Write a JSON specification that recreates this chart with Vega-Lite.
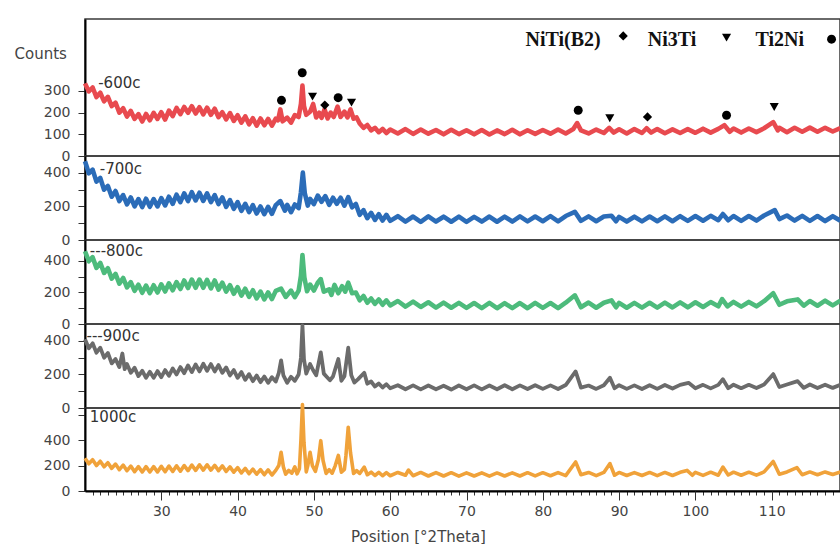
{
"$schema": "https://vega.github.io/schema/vega-lite/v6.json",
"padding": {"left": 13, "top": 18, "right": 0, "bottom": 0},
"background": "white",
"spacing": 0,
"bounds": "flush",
"config": {
 "view": {"stroke": "#3a3a3a", "strokeWidth": 1.5},
 "axis": {"labelFont": "DejaVu Sans", "labelFontSize": 14, "labelColor": "#444", "tickColor": "#333", "domainColor": "#000", "domainWidth": 2, "grid": false, "titleFont": "DejaVu Sans", "titleFontSize": 15, "titleColor": "#444", "titleFontWeight": "normal", "labelPadding": 8, "tickSize": 7, "labelOverlap": false},
 "text": {"font": "DejaVu Sans", "fontSize": 15, "color": "#333", "align": "left", "baseline": "middle"},
 "line": {"strokeWidth": 4.6, "strokeJoin": "round", "clip": true}
},
"datasets": {
"d600": [{"x":20,"y":335},{"x":20.5,"y":298},{"x":21,"y":316},{"x":21.5,"y":272},{"x":22,"y":292},{"x":22.5,"y":252},{"x":23,"y":273},{"x":23.5,"y":230},{"x":24,"y":246},{"x":24.5,"y":200},{"x":25,"y":220},{"x":25.5,"y":182},{"x":26,"y":208},{"x":26.5,"y":171},{"x":27,"y":193},{"x":27.5,"y":159},{"x":28,"y":194},{"x":28.5,"y":165},{"x":29,"y":199},{"x":29.5,"y":171},{"x":30,"y":202},{"x":30.5,"y":168},{"x":31,"y":209},{"x":31.5,"y":184},{"x":32,"y":222},{"x":32.5,"y":193},{"x":33,"y":226},{"x":33.5,"y":199},{"x":34,"y":230},{"x":34.5,"y":196},{"x":35,"y":225},{"x":35.5,"y":192},{"x":36,"y":223},{"x":36.5,"y":190},{"x":37,"y":218},{"x":37.5,"y":179},{"x":38,"y":202},{"x":38.5,"y":169},{"x":39,"y":198},{"x":39.5,"y":162},{"x":40,"y":188},{"x":40.5,"y":154},{"x":41,"y":183},{"x":41.5,"y":146},{"x":42,"y":174},{"x":42.5,"y":140},{"x":43,"y":173},{"x":43.5,"y":142},{"x":44,"y":171},{"x":44.5,"y":140},{"x":45,"y":172},{"x":45.3,"y":165},{"x":45.6,"y":215},{"x":45.9,"y":160},{"x":46.5,"y":177},{"x":47,"y":154},{"x":47.5,"y":189},{"x":48,"y":180},{"x":48.3,"y":240},{"x":48.5,"y":325},{"x":48.7,"y":230},{"x":49,"y":190},{"x":49.5,"y":204},{"x":49.9,"y":240},{"x":50.3,"y":178},{"x":50.7,"y":200},{"x":51,"y":176},{"x":51.4,"y":215},{"x":51.8,"y":173},{"x":52.2,"y":200},{"x":52.6,"y":180},{"x":53.1,"y":228},{"x":53.5,"y":180},{"x":54,"y":205},{"x":54.4,"y":178},{"x":54.8,"y":215},{"x":55.2,"y":172},{"x":55.6,"y":178},{"x":56,"y":150},{"x":56.5,"y":130},{"x":57,"y":143},{"x":57.5,"y":118},{"x":58,"y":130},{"x":58.5,"y":110},{"x":59,"y":125},{"x":59.5,"y":106},{"x":60,"y":122},{"x":61,"y":104},{"x":62,"y":124},{"x":63,"y":102},{"x":64,"y":122},{"x":65,"y":103},{"x":66,"y":120},{"x":67,"y":100},{"x":68,"y":121},{"x":69,"y":101},{"x":70,"y":119},{"x":71,"y":100},{"x":72,"y":120},{"x":73,"y":99},{"x":74,"y":118},{"x":75,"y":101},{"x":76,"y":121},{"x":77,"y":100},{"x":78,"y":119},{"x":79,"y":102},{"x":80,"y":120},{"x":81,"y":103},{"x":82,"y":122},{"x":83,"y":104},{"x":84,"y":125},{"x":84.5,"y":152},{"x":85,"y":118},{"x":86,"y":104},{"x":87,"y":122},{"x":88,"y":106},{"x":88.7,"y":130},{"x":89.3,"y":108},{"x":90,"y":123},{"x":91,"y":104},{"x":92,"y":124},{"x":93,"y":106},{"x":93.6,"y":128},{"x":94.2,"y":108},{"x":95,"y":124},{"x":96,"y":105},{"x":97,"y":123},{"x":98,"y":106},{"x":99,"y":124},{"x":100,"y":107},{"x":101,"y":126},{"x":102,"y":108},{"x":103,"y":125},{"x":103.8,"y":142},{"x":104.5,"y":112},{"x":105,"y":127},{"x":106,"y":108},{"x":107,"y":127},{"x":108,"y":110},{"x":109,"y":128},{"x":110.2,"y":156},{"x":110.8,"y":118},{"x":111,"y":130},{"x":112,"y":110},{"x":113,"y":130},{"x":114,"y":112},{"x":115,"y":131},{"x":116,"y":112},{"x":117,"y":130},{"x":118,"y":113},{"x":119,"y":129}],
"d700": [{"x":20,"y":470},{"x":20.5,"y":398},{"x":21,"y":420},{"x":21.5,"y":348},{"x":22,"y":370},{"x":22.5,"y":300},{"x":23,"y":322},{"x":23.5,"y":258},{"x":24,"y":292},{"x":24.5,"y":232},{"x":25,"y":268},{"x":25.5,"y":212},{"x":26,"y":254},{"x":26.5,"y":200},{"x":27,"y":244},{"x":27.5,"y":196},{"x":28,"y":246},{"x":28.5,"y":198},{"x":29,"y":244},{"x":29.5,"y":200},{"x":30,"y":250},{"x":30.5,"y":206},{"x":31,"y":258},{"x":31.5,"y":216},{"x":32,"y":270},{"x":32.5,"y":226},{"x":33,"y":278},{"x":33.5,"y":232},{"x":34,"y":285},{"x":34.5,"y":236},{"x":35,"y":282},{"x":35.5,"y":233},{"x":36,"y":278},{"x":36.5,"y":226},{"x":37,"y":268},{"x":37.5,"y":214},{"x":38,"y":254},{"x":38.5,"y":198},{"x":39,"y":238},{"x":39.5,"y":186},{"x":40,"y":226},{"x":40.5,"y":174},{"x":41,"y":216},{"x":41.5,"y":166},{"x":42,"y":208},{"x":42.5,"y":158},{"x":43,"y":200},{"x":43.5,"y":154},{"x":44,"y":198},{"x":44.5,"y":156},{"x":45,"y":208},{"x":45.6,"y":232},{"x":46.2,"y":175},{"x":46.5,"y":210},{"x":47,"y":166},{"x":47.5,"y":212},{"x":48,"y":190},{"x":48.3,"y":285},{"x":48.55,"y":402},{"x":48.8,"y":280},{"x":49.2,"y":205},{"x":49.5,"y":245},{"x":50,"y":214},{"x":50.5,"y":265},{"x":51,"y":228},{"x":51.5,"y":262},{"x":52,"y":210},{"x":52.5,"y":252},{"x":53,"y":216},{"x":53.5,"y":252},{"x":54,"y":205},{"x":54.5,"y":256},{"x":55,"y":195},{"x":55.5,"y":215},{"x":56,"y":150},{"x":56.5,"y":178},{"x":57,"y":130},{"x":57.5,"y":162},{"x":58,"y":120},{"x":58.5,"y":154},{"x":59,"y":116},{"x":59.5,"y":150},{"x":60,"y":114},{"x":61,"y":142},{"x":62,"y":110},{"x":63,"y":140},{"x":64,"y":108},{"x":65,"y":141},{"x":66,"y":110},{"x":67,"y":139},{"x":68,"y":109},{"x":69,"y":140},{"x":70,"y":108},{"x":71,"y":138},{"x":72,"y":110},{"x":73,"y":140},{"x":74,"y":109},{"x":75,"y":139},{"x":76,"y":110},{"x":77,"y":141},{"x":78,"y":111},{"x":79,"y":140},{"x":80,"y":112},{"x":81,"y":142},{"x":82,"y":111},{"x":83,"y":143},{"x":84.2,"y":168},{"x":85,"y":114},{"x":86,"y":141},{"x":87,"y":112},{"x":88,"y":140},{"x":89,"y":145},{"x":89.6,"y":112},{"x":90,"y":138},{"x":91,"y":110},{"x":92,"y":139},{"x":93,"y":111},{"x":94,"y":140},{"x":95,"y":112},{"x":96,"y":141},{"x":97,"y":112},{"x":98,"y":142},{"x":99,"y":114},{"x":100,"y":143},{"x":101,"y":115},{"x":102,"y":144},{"x":103,"y":118},{"x":103.6,"y":155},{"x":104.3,"y":118},{"x":105,"y":143},{"x":106,"y":114},{"x":107,"y":143},{"x":108,"y":116},{"x":109,"y":146},{"x":110.4,"y":178},{"x":111,"y":125},{"x":112,"y":146},{"x":113,"y":116},{"x":114,"y":144},{"x":115,"y":114},{"x":116,"y":143},{"x":117,"y":113},{"x":118,"y":142},{"x":119,"y":115}],
"d800": [{"x":20,"y":462},{"x":20.5,"y":398},{"x":21,"y":424},{"x":21.5,"y":356},{"x":22,"y":388},{"x":22.5,"y":324},{"x":23,"y":354},{"x":23.5,"y":288},{"x":24,"y":318},{"x":24.5,"y":256},{"x":25,"y":292},{"x":25.5,"y":232},{"x":26,"y":266},{"x":26.5,"y":210},{"x":27,"y":250},{"x":27.5,"y":198},{"x":28,"y":244},{"x":28.5,"y":196},{"x":29,"y":246},{"x":29.5,"y":200},{"x":30,"y":252},{"x":30.5,"y":206},{"x":31,"y":258},{"x":31.5,"y":214},{"x":32,"y":266},{"x":32.5,"y":222},{"x":33,"y":276},{"x":33.5,"y":228},{"x":34,"y":282},{"x":34.5,"y":230},{"x":35,"y":282},{"x":35.5,"y":230},{"x":36,"y":280},{"x":36.5,"y":226},{"x":37,"y":276},{"x":37.5,"y":218},{"x":38,"y":262},{"x":38.5,"y":206},{"x":39,"y":246},{"x":39.5,"y":192},{"x":40,"y":234},{"x":40.5,"y":180},{"x":41,"y":224},{"x":41.5,"y":172},{"x":42,"y":214},{"x":42.5,"y":162},{"x":43,"y":206},{"x":43.5,"y":156},{"x":44,"y":200},{"x":44.5,"y":158},{"x":45,"y":210},{"x":45.7,"y":225},{"x":46.3,"y":172},{"x":47,"y":212},{"x":47.5,"y":170},{"x":48,"y":212},{"x":48.3,"y":305},{"x":48.5,"y":438},{"x":48.75,"y":295},{"x":49.1,"y":208},{"x":49.5,"y":250},{"x":50,"y":212},{"x":50.5,"y":262},{"x":50.9,"y":285},{"x":51.3,"y":205},{"x":52,"y":220},{"x":52.3,"y":185},{"x":52.7,"y":248},{"x":53.2,"y":195},{"x":53.7,"y":240},{"x":54.1,"y":205},{"x":54.5,"y":262},{"x":55,"y":195},{"x":55.5,"y":200},{"x":56,"y":150},{"x":56.5,"y":178},{"x":57,"y":135},{"x":57.5,"y":162},{"x":58,"y":128},{"x":58.5,"y":156},{"x":59,"y":122},{"x":59.5,"y":150},{"x":60,"y":118},{"x":61,"y":146},{"x":62,"y":110},{"x":63,"y":142},{"x":64,"y":108},{"x":65,"y":138},{"x":66,"y":104},{"x":67,"y":136},{"x":68,"y":103},{"x":69,"y":134},{"x":70,"y":102},{"x":71,"y":133},{"x":72,"y":101},{"x":73,"y":134},{"x":74,"y":100},{"x":75,"y":132},{"x":76,"y":101},{"x":77,"y":133},{"x":78,"y":100},{"x":79,"y":134},{"x":80,"y":102},{"x":81,"y":133},{"x":82,"y":101},{"x":83,"y":135},{"x":84.2,"y":182},{"x":85,"y":106},{"x":86,"y":136},{"x":87,"y":103},{"x":88,"y":135},{"x":89,"y":150},{"x":89.6,"y":106},{"x":90,"y":134},{"x":91,"y":103},{"x":92,"y":134},{"x":93,"y":104},{"x":94,"y":135},{"x":95,"y":104},{"x":96,"y":136},{"x":97,"y":105},{"x":98,"y":137},{"x":99,"y":106},{"x":100,"y":138},{"x":101,"y":108},{"x":102,"y":139},{"x":103,"y":112},{"x":103.5,"y":158},{"x":104.2,"y":112},{"x":105,"y":140},{"x":106,"y":110},{"x":107,"y":140},{"x":108,"y":112},{"x":109,"y":145},{"x":110.2,"y":195},{"x":111,"y":122},{"x":112,"y":144},{"x":113.4,"y":156},{"x":114.2,"y":116},{"x":115,"y":146},{"x":116,"y":116},{"x":117,"y":148},{"x":118,"y":118},{"x":119,"y":148}],
"d900": [{"x":20,"y":410},{"x":20.5,"y":356},{"x":21,"y":386},{"x":21.5,"y":330},{"x":22,"y":360},{"x":22.5,"y":300},{"x":23,"y":328},{"x":23.5,"y":266},{"x":24,"y":292},{"x":24.5,"y":244},{"x":24.9,"y":325},{"x":25.2,"y":232},{"x":25.5,"y":262},{"x":26,"y":210},{"x":26.5,"y":240},{"x":27,"y":190},{"x":27.5,"y":222},{"x":28,"y":180},{"x":28.5,"y":216},{"x":29,"y":180},{"x":29.5,"y":220},{"x":30,"y":184},{"x":30.5,"y":226},{"x":31,"y":192},{"x":31.5,"y":236},{"x":32,"y":200},{"x":32.5,"y":244},{"x":33,"y":208},{"x":33.5,"y":254},{"x":34,"y":214},{"x":34.5,"y":260},{"x":35,"y":218},{"x":35.5,"y":264},{"x":36,"y":222},{"x":36.5,"y":262},{"x":37,"y":218},{"x":37.5,"y":256},{"x":38,"y":210},{"x":38.5,"y":242},{"x":39,"y":194},{"x":39.5,"y":226},{"x":40,"y":180},{"x":40.5,"y":214},{"x":41,"y":168},{"x":41.5,"y":202},{"x":42,"y":160},{"x":42.5,"y":194},{"x":43,"y":154},{"x":43.5,"y":188},{"x":44,"y":150},{"x":44.5,"y":184},{"x":45,"y":158},{"x":45.4,"y":210},{"x":45.7,"y":284},{"x":46,"y":195},{"x":46.5,"y":150},{"x":47,"y":186},{"x":47.5,"y":162},{"x":48,"y":200},{"x":48.3,"y":300},{"x":48.5,"y":492},{"x":48.7,"y":290},{"x":49,"y":205},{"x":49.5,"y":262},{"x":49.9,"y":225},{"x":50.3,"y":195},{"x":50.9,"y":332},{"x":51.3,"y":205},{"x":51.7,"y":185},{"x":52.1,"y":165},{"x":52.5,"y":188},{"x":53.2,"y":292},{"x":53.6,"y":162},{"x":54,"y":190},{"x":54.5,"y":360},{"x":54.9,"y":195},{"x":55.3,"y":152},{"x":55.8,"y":172},{"x":56.6,"y":210},{"x":57,"y":145},{"x":57.5,"y":158},{"x":58,"y":128},{"x":58.5,"y":146},{"x":59,"y":122},{"x":59.5,"y":142},{"x":60,"y":118},{"x":61,"y":136},{"x":62,"y":112},{"x":63,"y":135},{"x":64,"y":111},{"x":65,"y":134},{"x":66,"y":112},{"x":67,"y":133},{"x":68,"y":110},{"x":69,"y":134},{"x":70,"y":112},{"x":71,"y":135},{"x":72,"y":111},{"x":73,"y":134},{"x":74,"y":112},{"x":75,"y":136},{"x":76,"y":112},{"x":77,"y":135},{"x":78,"y":113},{"x":79,"y":136},{"x":80,"y":114},{"x":81,"y":135},{"x":82,"y":113},{"x":83,"y":137},{"x":84.3,"y":218},{"x":85,"y":122},{"x":86,"y":134},{"x":87,"y":114},{"x":88,"y":136},{"x":88.8,"y":180},{"x":89.4,"y":118},{"x":90,"y":136},{"x":91,"y":114},{"x":92,"y":135},{"x":93,"y":113},{"x":94,"y":136},{"x":95,"y":114},{"x":96,"y":137},{"x":97,"y":116},{"x":98,"y":138},{"x":99.1,"y":150},{"x":100,"y":118},{"x":101,"y":138},{"x":102,"y":117},{"x":103,"y":138},{"x":103.6,"y":172},{"x":104.3,"y":118},{"x":105,"y":139},{"x":106,"y":118},{"x":107,"y":138},{"x":108,"y":119},{"x":109,"y":140},{"x":110.2,"y":202},{"x":111,"y":125},{"x":112,"y":140},{"x":113.4,"y":160},{"x":114.2,"y":120},{"x":115,"y":140},{"x":116,"y":119},{"x":117,"y":139},{"x":118,"y":120},{"x":119,"y":138}],
"d1000": [{"x":20,"y":258},{"x":20.5,"y":214},{"x":21,"y":246},{"x":21.5,"y":200},{"x":22,"y":234},{"x":22.5,"y":190},{"x":23,"y":222},{"x":23.5,"y":178},{"x":24,"y":212},{"x":24.5,"y":168},{"x":25,"y":204},{"x":25.5,"y":160},{"x":26,"y":196},{"x":26.5,"y":152},{"x":27,"y":192},{"x":27.5,"y":150},{"x":28,"y":192},{"x":28.5,"y":150},{"x":29,"y":192},{"x":29.5,"y":150},{"x":30,"y":194},{"x":30.5,"y":152},{"x":31,"y":196},{"x":31.5,"y":154},{"x":32,"y":198},{"x":32.5,"y":156},{"x":33,"y":200},{"x":33.5,"y":160},{"x":34,"y":204},{"x":34.5,"y":162},{"x":35,"y":206},{"x":35.5,"y":164},{"x":36,"y":206},{"x":36.5,"y":164},{"x":37,"y":202},{"x":37.5,"y":160},{"x":38,"y":198},{"x":38.5,"y":154},{"x":39,"y":190},{"x":39.5,"y":148},{"x":40,"y":184},{"x":40.5,"y":142},{"x":41,"y":178},{"x":41.5,"y":136},{"x":42,"y":172},{"x":42.5,"y":132},{"x":43,"y":168},{"x":43.5,"y":128},{"x":44,"y":166},{"x":44.5,"y":126},{"x":45,"y":162},{"x":45.4,"y":200},{"x":45.7,"y":305},{"x":46,"y":190},{"x":46.3,"y":132},{"x":46.7,"y":162},{"x":47.1,"y":140},{"x":47.5,"y":190},{"x":47.8,"y":135},{"x":48.1,"y":175},{"x":48.3,"y":400},{"x":48.5,"y":680},{"x":48.7,"y":380},{"x":49,"y":150},{"x":49.2,"y":200},{"x":49.5,"y":305},{"x":49.8,"y":200},{"x":50.2,"y":155},{"x":50.6,"y":250},{"x":50.9,"y":396},{"x":51.2,"y":240},{"x":51.6,"y":138},{"x":52,"y":168},{"x":52.4,"y":140},{"x":52.8,"y":200},{"x":53.2,"y":280},{"x":53.6,"y":148},{"x":54,"y":170},{"x":54.2,"y":280},{"x":54.5,"y":502},{"x":54.8,"y":300},{"x":55.2,"y":138},{"x":55.6,"y":160},{"x":56,"y":138},{"x":56.6,"y":188},{"x":57,"y":128},{"x":57.5,"y":148},{"x":58,"y":122},{"x":58.5,"y":146},{"x":59,"y":120},{"x":59.5,"y":144},{"x":60,"y":120},{"x":61,"y":146},{"x":62,"y":124},{"x":62.4,"y":165},{"x":63,"y":120},{"x":64,"y":146},{"x":65,"y":118},{"x":66,"y":145},{"x":67,"y":118},{"x":68,"y":144},{"x":69,"y":117},{"x":70,"y":143},{"x":71,"y":118},{"x":72,"y":143},{"x":73,"y":117},{"x":74,"y":142},{"x":75,"y":118},{"x":76,"y":143},{"x":77,"y":118},{"x":78,"y":144},{"x":79,"y":119},{"x":80,"y":144},{"x":81,"y":120},{"x":82,"y":145},{"x":83,"y":121},{"x":84.3,"y":228},{"x":85,"y":128},{"x":86,"y":146},{"x":87,"y":121},{"x":88,"y":146},{"x":88.8,"y":216},{"x":89.4,"y":124},{"x":90,"y":146},{"x":91,"y":122},{"x":92,"y":145},{"x":93,"y":122},{"x":94,"y":146},{"x":95,"y":121},{"x":96,"y":146},{"x":97,"y":122},{"x":98,"y":147},{"x":98.9,"y":162},{"x":99.6,"y":124},{"x":100,"y":147},{"x":101,"y":123},{"x":102,"y":148},{"x":103,"y":124},{"x":103.6,"y":188},{"x":104.3,"y":126},{"x":105,"y":148},{"x":106,"y":124},{"x":107,"y":148},{"x":108,"y":125},{"x":109,"y":150},{"x":110.2,"y":232},{"x":111,"y":132},{"x":112,"y":150},{"x":113.3,"y":184},{"x":114,"y":128},{"x":115,"y":150},{"x":116,"y":128},{"x":117,"y":150},{"x":118,"y":130},{"x":119,"y":150}],
"labels": [{"p":"600c","t":"-600c","x":21.73,"y":337},{"p":"700c","t":"-700c","x":21.94,"y":426},{"p":"800c","t":"---800c","x":20.63,"y":463},{"p":"900c","t":"---900c","x":20.2,"y":431},{"p":"1000c","t":"1000c","x":20.63,"y":583}],
"markers": [{"k":"circle","x":45.75,"y":257},{"k":"circle","x":48.47,"y":384},{"k":"triangle","x":49.82,"y":274},{"k":"diamond","x":51.43,"y":235},{"k":"circle","x":53.18,"y":269},{"k":"triangle","x":54.93,"y":246},{"k":"circle","x":84.64,"y":211},{"k":"triangle","x":88.78,"y":174},{"k":"diamond","x":93.72,"y":180},{"k":"circle","x":104.08,"y":188},{"k":"triangle","x":110.33,"y":226},{"k":"diamond","x":90.54,"y":554},{"k":"triangle","x":104.08,"y":546},{"k":"circle","x":117.84,"y":539}],
"legend": [{"t":"NiTi(B2)","x":82.67,"y":534},{"t":"Ni3Ti","x":96.93,"y":534},{"t":"Ti2Ni","x":111.06,"y":534}]
},
"vconcat": [
{"width": 755, "height": 137,
 "layer": [
  {"data": {"name": "d600"}, "mark": {"type": "line", "color": "#e84a4f"},
   "encoding": {"x": {"field": "x", "type": "quantitative", "scale": {"domain": [20, 118.95], "nice": false, "zero": false}, "axis": null},
    "y": {"field": "y", "type": "quantitative", "scale": {"domain": [0, 632], "nice": false}, "axis": {"values": [0, 100, 200, 300], "title": "Counts", "titleAngle": 0, "titleAlign": "left", "titleBaseline": "middle", "titleX": -71, "titleY": 34}}}},
  {"data": {"name": "labels"}, "transform": [{"filter": "datum.p === '600c'"}], "mark": {"type": "text"},
   "encoding": {"x": {"field": "x", "type": "quantitative"}, "y": {"field": "y", "type": "quantitative"}, "text": {"field": "t"}}},
  {"data": {"name": "markers"}, "mark": {"type": "point", "filled": true, "color": "#000", "opacity": 1},
   "encoding": {"x": {"field": "x", "type": "quantitative"}, "y": {"field": "y", "type": "quantitative"},
    "shape": {"field": "k", "type": "nominal", "scale": {"domain": ["circle", "triangle", "diamond"], "range": ["circle", "triangle-down", "diamond"]}, "legend": null},
    "size": {"field": "k", "type": "nominal", "scale": {"domain": ["circle", "triangle", "diamond"], "range": [80, 85, 115]}, "legend": null}}},
  {"data": {"name": "legend"}, "mark": {"type": "text", "font": "Liberation Serif", "fontSize": 20, "fontWeight": "bold", "color": "#111", "align": "center"},
   "encoding": {"x": {"field": "x", "type": "quantitative"}, "y": {"field": "y", "type": "quantitative"}, "text": {"field": "t"}}}
 ]},
{"width": 755, "height": 84,
 "layer": [
  {"data": {"name": "d700"}, "mark": {"type": "line", "color": "#2b6cb8"},
   "encoding": {"x": {"field": "x", "type": "quantitative", "scale": {"domain": [20, 118.95], "nice": false, "zero": false}, "axis": null},
    "y": {"field": "y", "type": "quantitative", "scale": {"domain": [0, 501], "nice": false}, "axis": {"values": [0, 100, 200, 300, 400], "labelExpr": "datum.value % 200 === 0 ? datum.label : ''", "title": null}}}},
  {"data": {"name": "labels"}, "transform": [{"filter": "datum.p === '700c'"}], "mark": {"type": "text"},
   "encoding": {"x": {"field": "x", "type": "quantitative"}, "y": {"field": "y", "type": "quantitative", "axis": {"values": [0, 100, 200, 300, 400], "labelExpr": "datum.value % 200 === 0 ? datum.label : ''", "title": null}}, "text": {"field": "t"}}}
 ]},
{"width": 755, "height": 84,
 "layer": [
  {"data": {"name": "d800"}, "mark": {"type": "line", "color": "#4dbb7c"},
   "encoding": {"x": {"field": "x", "type": "quantitative", "scale": {"domain": [20, 118.95], "nice": false, "zero": false}, "axis": null},
    "y": {"field": "y", "type": "quantitative", "scale": {"domain": [0, 533], "nice": false}, "axis": {"values": [0, 100, 200, 300, 400], "labelExpr": "datum.value % 200 === 0 ? datum.label : ''", "title": null}}}},
  {"data": {"name": "labels"}, "transform": [{"filter": "datum.p === '800c'"}], "mark": {"type": "text"},
   "encoding": {"x": {"field": "x", "type": "quantitative"}, "y": {"field": "y", "type": "quantitative", "axis": {"values": [0, 100, 200, 300, 400], "labelExpr": "datum.value % 200 === 0 ? datum.label : ''", "title": null}}, "text": {"field": "t"}}}
 ]},
{"width": 755, "height": 84,
 "layer": [
  {"data": {"name": "d900"}, "mark": {"type": "line", "color": "#6b6b6b", "strokeWidth": 3.8},
   "encoding": {"x": {"field": "x", "type": "quantitative", "scale": {"domain": [20, 118.95], "nice": false, "zero": false}, "axis": null},
    "y": {"field": "y", "type": "quantitative", "scale": {"domain": [0, 501], "nice": false}, "axis": {"values": [0, 100, 200, 300, 400], "labelExpr": "datum.value % 200 === 0 ? datum.label : ''", "title": null}}}},
  {"data": {"name": "labels"}, "transform": [{"filter": "datum.p === '900c'"}], "mark": {"type": "text"},
   "encoding": {"x": {"field": "x", "type": "quantitative"}, "y": {"field": "y", "type": "quantitative", "axis": {"values": [0, 100, 200, 300, 400], "labelExpr": "datum.value % 200 === 0 ? datum.label : ''", "title": null}}, "text": {"field": "t"}}}
 ]},
{"width": 755, "height": 83,
 "resolve": {"axis": {"x": "independent"}},
 "layer": [
  {"data": {"name": "d1000"}, "mark": {"type": "line", "color": "#f0a23a", "strokeWidth": 3.6},
   "encoding": {"x": {"field": "x", "type": "quantitative", "scale": {"domain": [20, 118.95], "nice": false, "zero": false},
     "axis": {"orient": "bottom", "values": [21,22,23,24,25,26,27,28,29,31,32,33,34,35,36,37,38,39,41,42,43,44,45,46,47,48,49,51,52,53,54,55,56,57,58,59,61,62,63,64,65,66,67,68,69,71,72,73,74,75,76,77,78,79,81,82,83,84,85,86,87,88,89,91,92,93,94,95,96,97,98,99,101,102,103,104,105,106,107,108,109,111,112,113,114,115,116,117,118], "labels": false, "tickSize": 4, "domain": true, "title": null}},
    "y": {"field": "y", "type": "quantitative", "scale": {"domain": [0, 653], "nice": false}, "axis": {"values": [0, 200, 400, 600], "labelExpr": "datum.value <= 400 ? datum.label : ''", "title": null}}}},
  {"data": {"name": "labels"}, "transform": [{"filter": "datum.p === '1000c'"}], "mark": {"type": "text"},
   "encoding": {"x": {"field": "x", "type": "quantitative",
     "axis": {"orient": "bottom", "values": [30, 40, 50, 60, 70, 80, 90, 100, 110], "tickSize": 9, "labelPadding": 4, "domain": false, "labelOverlap": false,
      "title": "Position [°2Theta]", "titleX": 333, "titleY": 45, "titleBaseline": "middle", "titleAlign": "center"}},
    "y": {"field": "y", "type": "quantitative", "axis": {"values": [0, 200, 400, 600], "labelExpr": "datum.value <= 400 ? datum.label : ''", "title": null}}, "text": {"field": "t"}}}
 ]}
]
}
